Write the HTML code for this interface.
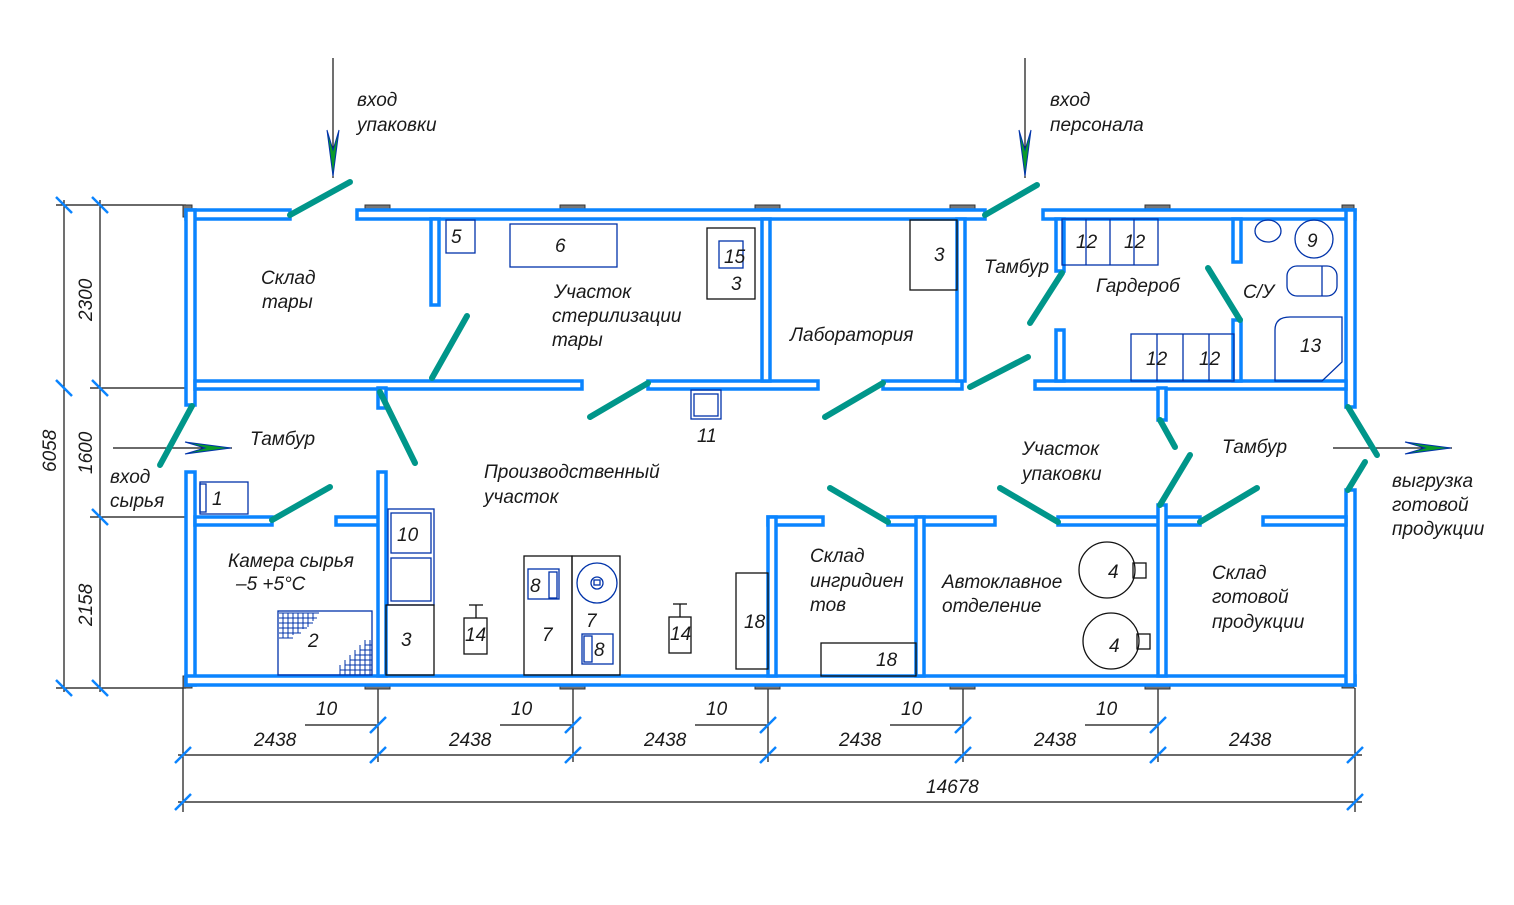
<!DOCTYPE html>
<html><head><meta charset="utf-8"><style>
html,body{margin:0;padding:0;background:#fff}
svg{display:block}
text{font-family:"Liberation Sans","DejaVu Sans",sans-serif;font-style:italic;fill:#1a1a1a;font-size:19px}
.w{fill:#fff;stroke:#0a84ff;stroke-width:3.5}
.d{stroke:#00968a;stroke-width:6;stroke-linecap:round}
.f{fill:none;stroke:#0033aa;stroke-width:1.3}
.k{fill:none;stroke:#111;stroke-width:1.3}
.dl{stroke:#111;stroke-width:1.2}
.tk{stroke:#0a84ff;stroke-width:2.5}
.p{fill:#777;stroke:#333;stroke-width:1}
</style></head><body>
<svg width="1514" height="905" viewBox="0 0 1514 905" xmlns="http://www.w3.org/2000/svg">
<g class="dl">
<line x1="64" y1="200" x2="64" y2="692"/><line x1="100" y1="200" x2="100" y2="692"/>
<line x1="56" y1="205" x2="186" y2="205"/><line x1="90" y1="388" x2="186" y2="388"/>
<line x1="90" y1="517" x2="196" y2="517"/><line x1="56" y1="688" x2="186" y2="688"/>
<line x1="183" y1="688" x2="183" y2="812"/><line x1="1355" y1="688" x2="1355" y2="812"/>
<line x1="378" y1="688" x2="378" y2="762"/><line x1="573" y1="688" x2="573" y2="762"/>
<line x1="768" y1="688" x2="768" y2="762"/><line x1="963" y1="688" x2="963" y2="762"/>
<line x1="1158" y1="688" x2="1158" y2="762"/>
<line x1="178" y1="755" x2="1362" y2="755"/><line x1="178" y1="802" x2="1362" y2="802"/>
<line x1="305" y1="725" x2="378" y2="725"/><line x1="500" y1="725" x2="573" y2="725"/>
<line x1="695" y1="725" x2="768" y2="725"/><line x1="890" y1="725" x2="963" y2="725"/>
<line x1="1085" y1="725" x2="1158" y2="725"/>
<line x1="333" y1="58" x2="333" y2="178"/><line x1="1025" y1="58" x2="1025" y2="178"/>
<line x1="113" y1="448" x2="232" y2="448"/><line x1="1333" y1="448" x2="1452" y2="448"/>
</g>
<g fill="#0a9a2a" stroke="#0033aa" stroke-width="1">
<polygon points="327,130 333,150 339,130 333,176"/>
<polygon points="1019,130 1025,150 1031,130 1025,176"/>
<polygon points="185,442 205,448 185,454 231,448"/>
<polygon points="1405,442 1425,448 1405,454 1451,448"/>
</g>
<g class="tk">
<line x1="56" y1="197" x2="72" y2="213"/><line x1="92" y1="197" x2="108" y2="213"/>
<line x1="56" y1="380" x2="72" y2="396"/><line x1="92" y1="380" x2="108" y2="396"/>
<line x1="92" y1="509" x2="108" y2="525"/>
<line x1="56" y1="680" x2="72" y2="696"/><line x1="92" y1="680" x2="108" y2="696"/>
<line x1="175" y1="763" x2="191" y2="747"/><line x1="370" y1="763" x2="386" y2="747"/>
<line x1="565" y1="763" x2="581" y2="747"/><line x1="760" y1="763" x2="776" y2="747"/>
<line x1="955" y1="763" x2="971" y2="747"/><line x1="1150" y1="763" x2="1166" y2="747"/>
<line x1="1347" y1="763" x2="1363" y2="747"/>
<line x1="175" y1="810" x2="191" y2="794"/><line x1="1347" y1="810" x2="1363" y2="794"/>
<line x1="370" y1="733" x2="386" y2="717"/><line x1="565" y1="733" x2="581" y2="717"/>
<line x1="760" y1="733" x2="776" y2="717"/><line x1="955" y1="733" x2="971" y2="717"/>
<line x1="1150" y1="733" x2="1166" y2="717"/>
</g>
<g class="p">
<rect x="183" y="205" width="9" height="12"/><rect x="365" y="205" width="25" height="6"/>
<rect x="560" y="205" width="25" height="6"/><rect x="755" y="205" width="25" height="6"/>
<rect x="950" y="205" width="25" height="6"/><rect x="1145" y="205" width="25" height="6"/>
<rect x="1342" y="205" width="12" height="12"/>
<rect x="183" y="676" width="9" height="12"/><rect x="365" y="683" width="25" height="6"/>
<rect x="560" y="683" width="25" height="6"/><rect x="755" y="683" width="25" height="6"/>
<rect x="950" y="683" width="25" height="6"/><rect x="1145" y="683" width="25" height="6"/>
<rect x="1342" y="676" width="12" height="12"/>
</g>
<g class="w">
<rect x="186" y="210" width="104" height="9"/><rect x="357" y="210" width="628" height="9"/>
<rect x="1043" y="210" width="312" height="9"/>
<rect x="186" y="210" width="9" height="195"/><rect x="186" y="472" width="9" height="213"/>
<rect x="186" y="676" width="1169" height="9"/>
<rect x="1346" y="210" width="9" height="197"/><rect x="1346" y="490" width="9" height="195"/>
<rect x="195" y="381" width="387" height="8"/><rect x="648" y="381" width="170" height="8"/>
<rect x="883" y="381" width="79" height="8"/><rect x="1035" y="381" width="311" height="8"/>
<rect x="431" y="219" width="8" height="86"/><rect x="762" y="219" width="8" height="162"/>
<rect x="957" y="219" width="8" height="162"/><rect x="1056" y="219" width="8" height="52"/>
<rect x="1056" y="330" width="8" height="51"/><rect x="1233" y="219" width="8" height="43"/>
<rect x="1233" y="320" width="8" height="61"/>
<rect x="195" y="517" width="77" height="8"/><rect x="336" y="517" width="49" height="8"/>
<rect x="768" y="517" width="55" height="8"/><rect x="888" y="517" width="107" height="8"/>
<rect x="1058" y="517" width="142" height="8"/><rect x="1263" y="517" width="83" height="8"/>
<rect x="378" y="388" width="8" height="20"/><rect x="378" y="472" width="8" height="204"/>
<rect x="768" y="517" width="8" height="159"/><rect x="916" y="517" width="8" height="159"/>
<rect x="1158" y="388" width="8" height="32"/><rect x="1158" y="505" width="8" height="171"/>
</g>
<g class="d">
<line x1="290" y1="215" x2="350" y2="182"/><line x1="985" y1="215" x2="1037" y2="185"/>
<line x1="160" y1="465" x2="192" y2="406"/><line x1="432" y1="378" x2="467" y2="316"/>
<line x1="590" y1="417" x2="648" y2="383"/><line x1="825" y1="417" x2="883" y2="383"/>
<line x1="970" y1="387" x2="1028" y2="357"/><line x1="1030" y1="323" x2="1062" y2="273"/>
<line x1="1208" y1="268" x2="1240" y2="320"/><line x1="380" y1="392" x2="415" y2="463"/>
<line x1="272" y1="520" x2="330" y2="487"/><line x1="830" y1="488" x2="888" y2="522"/>
<line x1="1000" y1="488" x2="1058" y2="522"/><line x1="1160" y1="420" x2="1175" y2="447"/>
<line x1="1190" y1="455" x2="1160" y2="505"/><line x1="1200" y1="522" x2="1257" y2="488"/>
<line x1="1348" y1="407" x2="1377" y2="455"/><line x1="1365" y1="462" x2="1348" y2="490"/>
</g>
<g class="f">
<rect x="446" y="220" width="29" height="33"/><rect x="510" y="224" width="107" height="43"/>
<rect x="719" y="241" width="24" height="27"/>
<rect x="200" y="482" width="48" height="32"/><rect x="200" y="484" width="6" height="28"/>
<rect x="278" y="611" width="94" height="64"/>
<rect x="388" y="509" width="46" height="96"/><rect x="391" y="513" width="40" height="40"/><rect x="391" y="558" width="40" height="43"/>
<rect x="528" y="569" width="31" height="30"/><rect x="549" y="572" width="8" height="26"/>
<circle cx="597" cy="583" r="20"/><circle cx="597" cy="583" r="6"/><rect x="594" y="580" width="6" height="5"/>
<rect x="582" y="634" width="31" height="30"/><rect x="584" y="636" width="8" height="26"/>
<rect x="691" y="390" width="30" height="29"/><rect x="694" y="394" width="24" height="22"/>
<rect x="1062" y="219" width="96" height="46"/><line x1="1110" y1="219" x2="1110" y2="265"/>
<line x1="1086" y1="219" x2="1086" y2="265"/><line x1="1134" y1="219" x2="1134" y2="265"/>
<rect x="1131" y="334" width="103" height="47"/><line x1="1183" y1="334" x2="1183" y2="381"/>
<line x1="1157" y1="334" x2="1157" y2="381"/><line x1="1209" y1="334" x2="1209" y2="381"/>
<ellipse cx="1268" cy="231" rx="13" ry="11"/><circle cx="1314" cy="239" r="19"/>
<rect x="1287" y="266" width="50" height="30" rx="10"/><line x1="1322" y1="266" x2="1322" y2="296"/>
<path d="M1275 381 L1275 330 Q1275 317 1290 317 L1342 317 L1342 362 L1322 381 Z"/>
</g>
<g stroke="#0033aa" stroke-width="1">
<path d="M279 613 h40 M279 618 h38 M279 623 h34 M279 628 h28 M279 633 h22 M279 638 h14 M283 613 v25 M288 613 v25 M293 613 v22 M298 613 v20 M303 613 v16 M308 613 v14 M313 613 v8"/>
<path d="M370 640 v35 M365 640 v35 M360 645 v30 M355 650 v25 M350 655 v20 M345 660 v15 M340 665 v10 M340 670 h32 M345 665 h27 M350 660 h22 M355 655 h17 M360 650 h12 M365 645 h7"/>
</g>
<g class="k">
<rect x="707" y="228" width="48" height="71"/><rect x="910" y="220" width="47" height="70"/>
<rect x="386" y="605" width="48" height="70"/>
<rect x="464" y="618" width="23" height="36"/><line x1="476" y1="605" x2="476" y2="618"/><line x1="469" y1="605" x2="483" y2="605"/>
<rect x="669" y="617" width="22" height="36"/><line x1="680" y1="604" x2="680" y2="617"/><line x1="673" y1="604" x2="687" y2="604"/>
<rect x="524" y="556" width="48" height="119"/><rect x="572" y="556" width="48" height="119"/>
<rect x="736" y="573" width="32" height="96"/><rect x="821" y="643" width="95" height="33"/>
<circle cx="1107" cy="570" r="28"/><rect x="1133" y="563" width="13" height="15"/>
<circle cx="1111" cy="641" r="28"/><rect x="1137" y="634" width="13" height="15"/>
</g>
<text x="261" y="284">Склад</text><text x="262" y="308">тары</text>
<text x="554" y="298">Участок</text><text x="552" y="322">стерилизации</text><text x="552" y="346">тары</text>
<text x="790" y="341">Лаборатория</text>
<text x="984" y="273">Тамбур</text><text x="1096" y="292">Гардероб</text>
<text x="1243" y="298">С/У</text>
<text x="250" y="445">Тамбур</text>
<text x="110" y="483">вход</text><text x="110" y="507">сырья</text>
<text x="484" y="478">Производственный</text><text x="484" y="503">участок</text>
<text x="1022" y="455">Участок</text><text x="1022" y="480">упаковки</text>
<text x="1222" y="453">Тамбур</text>
<text x="1392" y="487">выгрузка</text><text x="1392" y="511">готовой</text><text x="1392" y="535">продукции</text>
<text x="228" y="567">Камера сырья</text><text x="236" y="590">–5 +5°С</text>
<text x="810" y="562">Склад</text><text x="810" y="587">ингридиен</text><text x="810" y="611">тов</text>
<text x="942" y="588">Автоклавное</text><text x="942" y="612">отделение</text>
<text x="1212" y="579">Склад</text><text x="1212" y="603">готовой</text><text x="1212" y="628">продукции</text>
<text x="357" y="106">вход</text><text x="357" y="131">упаковки</text>
<text x="1050" y="106">вход</text><text x="1050" y="131">персонала</text>
<text x="451" y="243">5</text><text x="555" y="252">6</text><text x="724" y="263" font-size="17">15</text><text x="731" y="290">3</text>
<text x="934" y="261">3</text><text x="697" y="442">11</text>
<text x="1076" y="248">12</text><text x="1124" y="248">12</text><text x="1146" y="365">12</text><text x="1199" y="365">12</text>
<text x="1307" y="247">9</text><text x="1300" y="352">13</text>
<text x="212" y="505">1</text><text x="308" y="647">2</text><text x="397" y="541">10</text><text x="401" y="646">3</text>
<text x="530" y="592">8</text><text x="542" y="641">7</text><text x="586" y="627">7</text><text x="594" y="656">8</text>
<text x="465" y="641" font-size="17">14</text><text x="670" y="640" font-size="17">14</text>
<text x="744" y="628">18</text><text x="876" y="666">18</text>
<text x="1108" y="578">4</text><text x="1109" y="652">4</text>
<text x="316" y="715">10</text><text x="511" y="715">10</text><text x="706" y="715">10</text><text x="901" y="715">10</text><text x="1096" y="715">10</text>
<text x="254" y="746">2438</text><text x="449" y="746">2438</text><text x="644" y="746">2438</text><text x="839" y="746">2438</text><text x="1034" y="746">2438</text><text x="1229" y="746">2438</text>
<text x="926" y="793">14678</text>
<text transform="translate(56,472) rotate(-90)">6058</text>
<text transform="translate(92,321) rotate(-90)">2300</text>
<text transform="translate(92,474) rotate(-90)">1600</text>
<text transform="translate(92,626) rotate(-90)">2158</text>
</svg>
</body></html>
